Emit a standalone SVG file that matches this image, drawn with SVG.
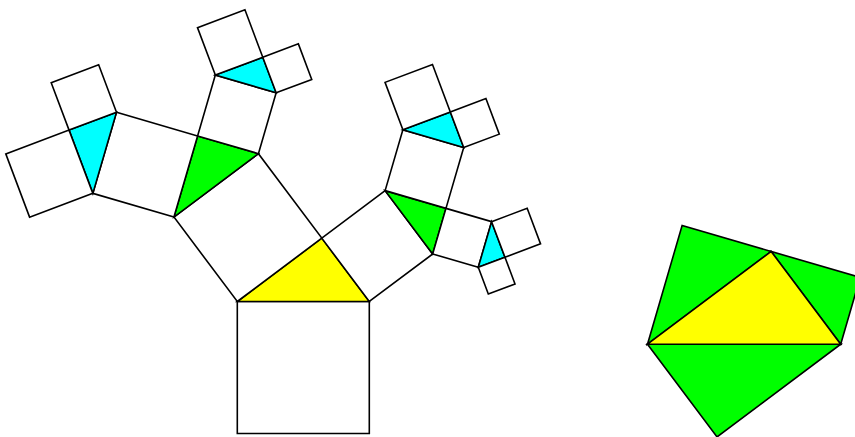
<svg xmlns="http://www.w3.org/2000/svg" width="855" height="437" viewBox="0 0 855 437">
<style>
.sq{fill:#ffffff;stroke:#000000;stroke-width:1.6;stroke-linejoin:miter}
.y{fill:#ffff00;stroke:#000000;stroke-width:1.6}
.g{fill:#00ff00;stroke:#000000;stroke-width:1.6}
.c{fill:#00ffff;stroke:#000000;stroke-width:1.6}
</style>
<rect width="855" height="437" fill="#ffffff"/>
<g id="tree">
<polygon id="base" class="sq" points="237.3,301.5 369.3,301.5 369.3,433.5 237.3,433.5"/>
<polygon id="t0" class="y" points="237.3,301.5 321.78,238.14 369.3,301.5"/>
<polygon id="s1" class="sq" points="237.3,301.5 321.78,238.14 258.42,153.66 173.94,217.02"/>
<polygon id="s2" class="sq" points="321.78,238.14 369.3,301.5 432.66,253.98 385.14,190.62"/>
<polygon id="g1" class="g" points="173.94,217.02 197.594,135.919 258.42,153.66"/>
<polygon id="g2" class="g" points="385.14,190.62 445.966,208.361 432.66,253.98"/>
<polygon id="s11" class="sq" points="173.94,217.02 197.594,135.919 116.493,112.265 92.839,193.366"/>
<polygon id="s12" class="sq" points="197.594,135.919 258.42,153.66 276.161,92.834 215.335,75.093"/>
<polygon id="s21" class="sq" points="385.14,190.62 445.966,208.361 463.707,147.535 402.881,129.794"/>
<polygon id="s22" class="sq" points="445.966,208.361 432.66,253.98 478.279,267.286 491.585,221.667"/>
<polygon id="c11" class="c" points="92.839,193.366 69.050,130.107 116.493,112.265"/>
<polygon id="c12" class="c" points="215.335,75.093 262.780,57.251 276.161,92.834"/>
<polygon id="c21" class="c" points="402.881,129.794 450.326,111.952 463.707,147.535"/>
<polygon id="c22" class="c" points="491.585,221.667 504.966,257.250 478.279,267.286"/>
<polygon id="s111" class="sq" points="92.839,193.366 69.050,130.107 5.791,153.896 29.580,217.155"/>
<polygon id="s112" class="sq" points="69.050,130.107 116.493,112.265 98.651,64.822 51.208,82.664"/>
<polygon id="s121" class="sq" points="215.335,75.093 262.780,57.251 244.938,9.806 197.493,27.648"/>
<polygon id="s122" class="sq" points="262.780,57.251 276.161,92.834 311.744,79.453 298.363,43.870"/>
<polygon id="s211" class="sq" points="402.881,129.794 450.326,111.952 432.484,64.507 385.039,82.349"/>
<polygon id="s212" class="sq" points="450.326,111.952 463.707,147.535 499.290,134.154 485.909,98.571"/>
<polygon id="s221" class="sq" points="491.585,221.667 504.966,257.250 540.549,243.869 527.168,208.286"/>
<polygon id="s222" class="sq" points="504.966,257.250 478.279,267.286 488.315,293.973 515.002,283.937"/>
</g>
<g id="figure2">
<polygon id="f-ul" class="g" points="647.5,344.2 771.15,251.46 682.121,225.494"/>
<polygon id="f-ur" class="g" points="771.15,251.46 840.7,344.2 860.177,277.43"/>
<polygon id="f-b" class="g" points="840.7,344.2 647.5,344.2 717.052,436.936"/>
<polygon id="f-y" class="y" points="647.5,344.2 771.15,251.46 840.7,344.2"/>
</g>
</svg>
